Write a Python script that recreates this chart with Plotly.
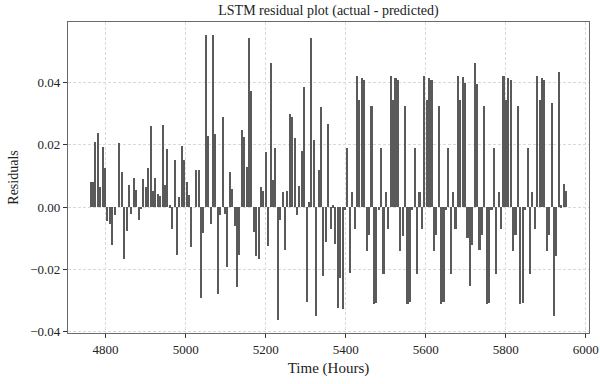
import plotly.graph_objects as go

# Time index (hours), one residual every 6 hours
hours = list(range(4763, 5952, 6))

resid_a = [0.0079, 0.0081, 0.021, 0.0237, 0.0064, 0.0193, 0.0124, -0.0046, -0.0053, -0.0123,
           -0.0026, 0.0, 0.0207, 0.0113, -0.0167, -0.0077, 0.0071, -0.0022, 0.0094, 0.0056,
           -0.0041, -0.0004, 0.009, 0.0064, 0.0125, 0.026, 0.005, 0.0092,
           0.0041, 0.0034, 0.0265, 0.007, 0.0187, 0.0006, -0.007, 0.0152, -0.0153, 0.0032,
           0.0197, 0.0152, 0.008, 0.0038, -0.0128, 0.0, 0.0119, 0.0119, -0.0293, -0.0083,
           0.0553, 0.023, -0.0053, 0.0553, 0.0236, -0.0278, -0.0025, 0.0288]
resid_b = [-0.0021, -0.0193, 0.0113, 0.0058, -0.0062, -0.0257, -0.0153, 0.0248, 0.0224, 0.0129,
           0.0542, 0.0373, -0.008, -0.0158, -0.0166, 0.0066, 0.0051, 0.0176, -0.0124, 0.0464,
           0.0086, 0.0191, -0.0362, -0.0041, 0.0049, -0.0137, 0.005, 0.0298,
           0.0289, 0.0222, -0.0025, 0.0067, 0.018, 0.0386, -0.0306, 0.0017, 0.0542, 0.0216,
           -0.0351, 0.0118, 0.0321, -0.0222, -0.0111, 0.0268, -0.007, 0.0005, -0.0118, -0.0324,
           -0.0228, -0.0327, -0.0009, 0.0191, -0.0212, 0.0048, -0.007]
resid_c = [0.0421, 0.0345, 0.0415, 0.0409, -0.0142, -0.009, 0.0325, -0.0313, -0.0307, -0.0011,
           0.0191, -0.0214, 0.0047, -0.007,
           0.042, 0.0344, 0.0415, 0.0409, -0.0142, -0.0092, 0.0325, -0.0313, -0.0306, -0.0011,
           0.0191, -0.0214, 0.0047, -0.007,
           0.042, 0.0344, 0.0415, 0.0409, -0.0142, -0.0089, 0.0325, -0.0313, -0.0306, -0.0011,
           0.0191, -0.0214, 0.0047, -0.007]
resid_d = [0.042, 0.0344, 0.0417, 0.0399, -0.01, -0.0255, -0.0122, 0.0464, 0.0397, -0.0139,
           -0.009, 0.0325, -0.0313, -0.0307, -0.0011, 0.019, -0.0214, 0.0047, -0.007,
           0.0421, 0.0344, 0.0414, 0.0409, -0.0142, -0.0089, 0.0325, -0.0313, -0.031, -0.0011,
           0.019, -0.0214, 0.0047, -0.007,
           0.042, 0.0344, 0.0414, 0.0409, -0.0142, -0.0091,
           0.0336, -0.0351, -0.0156, 0.0435, 0.0006, 0.0075, 0.0053]
residuals = resid_a + resid_b + resid_c + resid_d

x_ticks = [4800, 5000, 5200, 5400, 5600, 5800, 6000]
y_ticks = [-0.04, -0.02, 0.0, 0.02, 0.04]

FONT = "Liberation Serif"

fig = go.Figure(go.Bar(
    x=hours, y=residuals, width=3.9,
    marker=dict(color="#5a5a5a", line=dict(width=0)),
))

axis_common = dict(
    showline=True, linecolor="#6a6a6a", linewidth=1.2, mirror=True,
    ticks="outside", ticklen=4, tickcolor="#333333", tickwidth=1,
    showgrid=True, gridcolor="#d9d9d9", gridwidth=1, griddash="3px,2px",
    zeroline=False, automargin=False,
    tickfont=dict(family=FONT, size=13, color="#222222"),
)

fig.update_layout(
    width=600, height=384,
    margin=dict(l=68, r=11, t=22, b=51),
    plot_bgcolor="white", paper_bgcolor="white",
    showlegend=False,
    bargap=0,
    title=dict(text="LSTM residual plot (actual - predicted)", x=0.5475, xanchor="center",
               y=0.975, yanchor="middle",
               font=dict(family=FONT, size=14, color="#222222")),
    xaxis=dict(range=[4706, 6008], tickvals=x_ticks,
               title=dict(text="Time (Hours)", font=dict(family=FONT, size=15, color="#222222"),
                          standoff=6),
               **axis_common),
    yaxis=dict(range=[-0.0405, 0.0595], tickvals=y_ticks, tickformat=".2f",
               title=dict(text="Residuals", font=dict(family=FONT, size=14, color="#222222"),
                          standoff=8),
               **axis_common),
)

fig.write_html("out.html", config={"displayModeBar": False},
               post_script="document.body.style.margin='0';")
